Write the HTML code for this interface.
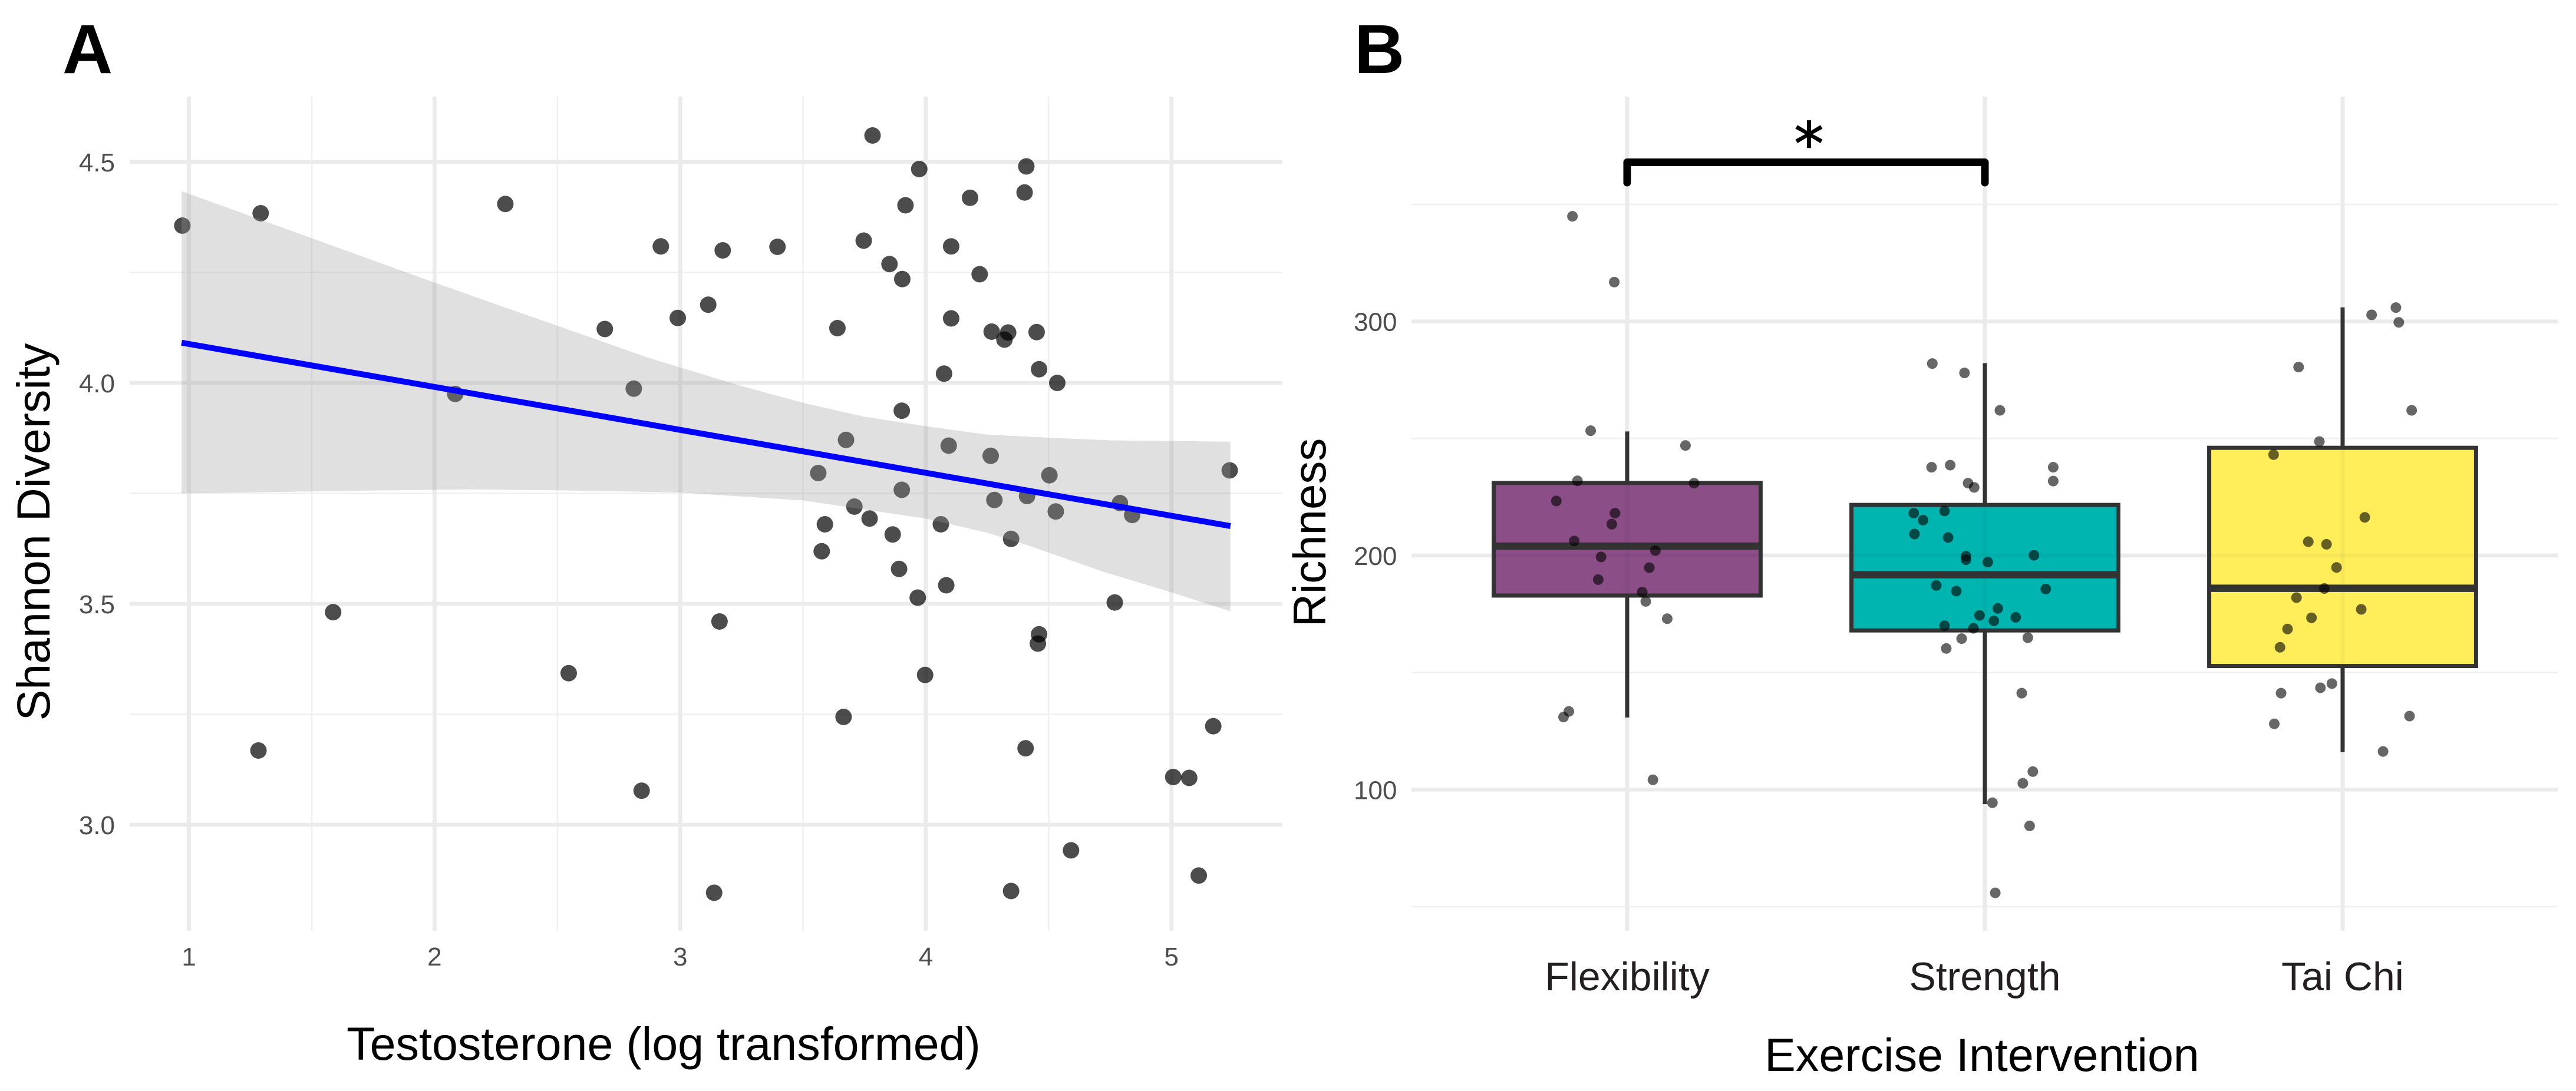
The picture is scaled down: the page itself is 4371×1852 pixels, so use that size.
<!DOCTYPE html>
<html lang="en">
<head>
<meta charset="utf-8">
<title>Testosterone and exercise intervention vs gut diversity</title>
<style>
html,body{margin:0;padding:0;background:#fff;}
svg{display:block;font-family:"Liberation Sans",Arial,sans-serif;}
</style>
</head>
<body>
<svg id="figure" xmlns="http://www.w3.org/2000/svg" width="4371" height="1852" viewBox="0 0 4371 1852">
  <rect x="0" y="0" width="4371" height="1852" fill="#ffffff"/>
  <g id="panelA"></g>
  <g id="panelB"></g>
  <text x="106" y="124" font-size="118" font-weight="700" fill="#000">A</text>
  <text x="2298" y="124" font-size="118" font-weight="700" fill="#000">B</text>
  <text x="1126" y="1799" font-size="79" text-anchor="middle" fill="#000">Testosterone (log transformed)</text>
  <text transform="translate(84,903) rotate(-90)" font-size="79" text-anchor="middle" fill="#000">Shannon Diversity</text>
  <text x="3363" y="1818" font-size="79" text-anchor="middle" fill="#000">Exercise Intervention</text>
  <text transform="translate(2249,904) rotate(-90)" font-size="78" text-anchor="middle" fill="#000">Richness</text>
</svg>
<script>
// ---------- Panel A data ----------
const xTicksA = [1, 2, 3, 4, 5];
const xMinorA = [1.5, 2.5, 3.5, 4.5];
const yTicksA = [3.0, 3.5, 4.0, 4.5];
const yMinorA = [3.25, 3.75, 4.25];
const testosterone = [0.973,1.292,2.288,2.693,2.811,2.084,3.783,3.973,4.409,4.402,4.180,3.917,2.921,3.173,3.396,3.747,4.103,3.852,3.904,4.219,2.990,3.114,3.640,4.103,4.268,4.335,4.320,4.451,4.461,4.535,4.074,3.902,3.675,4.093,4.264,3.562,4.503,5.237,3.902,4.279,4.412,4.529,4.790,4.840,3.709,3.771,3.589,4.061,3.865,4.347,3.576,3.891,4.083,3.967,4.769,3.160,4.461,4.456,3.997,3.665,4.406,5.007,5.072,5.170,4.591,5.111,3.138,4.347,2.843,1.587,2.546,1.283];
const shannon = [4.356,4.384,4.405,4.122,3.987,3.975,4.560,4.484,4.490,4.431,4.419,4.402,4.309,4.300,4.308,4.322,4.309,4.269,4.235,4.246,4.147,4.177,4.124,4.146,4.116,4.114,4.098,4.115,4.031,4.000,4.021,3.937,3.871,3.858,3.835,3.796,3.791,3.802,3.758,3.735,3.744,3.709,3.728,3.701,3.720,3.693,3.680,3.680,3.657,3.647,3.619,3.579,3.542,3.514,3.503,3.460,3.431,3.410,3.339,3.244,3.173,3.108,3.106,3.223,2.942,2.885,2.846,2.850,3.077,3.481,3.343,3.168];
const fitX = [0.97, 5.24];
const fitY = [4.091, 3.676];
const upperX = [0.97,2.0,2.87,3.0,3.23,3.5,3.744,4.0,4.249,4.498,4.754,5.24];
const upperY = [4.434,4.227,4.057,4.035,3.996,3.955,3.924,3.902,3.883,3.876,3.870,3.867];
const lowerX = [0.97,1.686,2.15,2.49,2.81,3.0,3.5,4.0,4.249,4.417,4.72,5.0,5.24];
const lowerY = [3.750,3.756,3.759,3.757,3.754,3.752,3.734,3.693,3.661,3.632,3.573,3.526,3.483];

// ---------- Panel B data ----------
const categories = ["Flexibility", "Strength", "Tai Chi"];
const yTicksB = [100, 200, 300];
const yMinorB = [50, 150, 250, 350];
const boxColors = ["#8b4e87", "#00b5b0", "#ffee5a"];
const q1 = [182.9, 168, 152.8];
const medians = [204, 191.8, 186];
const q3 = [231, 221.6, 246];
const whiskerLow = [130.8, 93.8, 116];
const whiskerHigh = [253, 282.2, 306];
const flexibilityJitter = [-.153,-.036,-.102,.163,-.139,.187,-.198,-.034,-.043,-.148,.079,-.073,.062,-.081,.042,.052,.112,-.163,-.178,.072];
const flexibilityRichness = [344.9,316.8,253.3,247,231.9,230.9,223.3,218.1,213.4,206.2,202.1,199.4,194.8,189.7,184.4,180.4,173,133.4,131,104.2];
const strengthJitter = [-.147,-.057,.042,-.149,-.097,-.047,-.03,.191,.191,-.113,-.103,-.199,-.173,-.197,-.053,-.053,.008,.137,-.136,-.08,.17,.036,-.015,.086,.025,-.113,-.032,-.065,-.108,.12,.103,.134,.106,.021,.125,.029];
const strengthRichness = [282,278,262,237.7,238.6,230.9,229.1,237.7,231.8,219,207.7,218.1,215.1,209.2,199.7,198.2,197.2,200.1,187.2,184.8,185.7,177.4,174.4,173.6,172.1,170,168.9,164.5,160.3,164.9,141.2,107.7,102.7,94.4,84.5,55.9];
const taiChiJitter = [.149,.081,.157,-.123,.193,-.065,-.193,.062,-.096,-.045,-.017,-.051,-.129,.052,-.087,-.154,-.175,-.03,-.062,-.172,-.191,.187,.113];
const taiChiRichness = [305.9,302.8,299.6,280.5,262,248.7,243.1,216.3,205.9,204.8,194.9,185.9,182,177,173.4,168.6,160.8,145.3,143.5,141.2,128.1,131.4,116.3];
const significanceLabel = "*";

// ---------- Axis functions ----------
const panelA = {left: 220, right: 2176, top: 164, bottom: 1580};
const panelB = {left: 2395, right: 4340, top: 164, bottom: 1580};
const xA = v => 320.6 + 416.8 * (v - 1);
const yA = v => 650 - 750 * (v - 4);
const xB = c => 2761 + 607 * c;
const yB = v => 943 - 3.974 * (v - 200);
const SVGNS = "http://www.w3.org/2000/svg";
const gA = document.getElementById("panelA");
const gB = document.getElementById("panelB");

function make(parent, tag, attrs, text) {
  const el = document.createElementNS(SVGNS, tag);
  for (const k in attrs) el.setAttribute(k, attrs[k]);
  if (text !== undefined) el.textContent = text;
  parent.appendChild(el);
  return el;
}
const lineAttrs = (x1, y1, x2, y2, stroke, w) => ({x1, y1, x2, y2, stroke, "stroke-width": w});

// ---------- Panel A drawing ----------
yMinorA.forEach(v => {
  const el = make(gA, "line", lineAttrs(panelA.left, yA(v), panelA.right, yA(v), "#f0f0f0", 2.6));
  
  
});
xMinorA.forEach(v => {
  const el = make(gA, "line", lineAttrs(xA(v), panelA.top, xA(v), panelA.bottom, "#f0f0f0", 2.6));
  
  
});
yTicksA.forEach(v => {
  const el = make(gA, "line", lineAttrs(panelA.left, yA(v), panelA.right, yA(v), "#ebebeb", 6.5));
  
  
  const t = make(gA, "text", {x: 195, y: yA(v) + 16, "font-size": 44, "text-anchor": "end", fill: "#4d4d4d"}, v.toFixed(1));
  
  
});
xTicksA.forEach(v => {
  const el = make(gA, "line", lineAttrs(xA(v), panelA.top, xA(v), panelA.bottom, "#ebebeb", 7));
  
  
  const t = make(gA, "text", {x: xA(v), y: 1639, "font-size": 44, "text-anchor": "middle", fill: "#4d4d4d"}, String(v));
  
  
});
testosterone.forEach((v, i) => {
  const el = make(gA, "circle", {cx: xA(v), cy: yA(shannon[i]), r: 14, fill: "#000", "fill-opacity": 0.7});
  
  
});
let ribbonPts = upperX.map((v, i) => xA(v) + "," + yA(upperY[i]));
for (let i = lowerX.length - 1; i >= 0; i--) ribbonPts.push(xA(lowerX[i]) + "," + yA(lowerY[i]));
const ribbon = make(gA, "polygon", {points: ribbonPts.join(" "), fill: "#999999", "fill-opacity": 0.3});


const fit = make(gA, "line", lineAttrs(xA(fitX[0]), yA(fitY[0]), xA(fitX[1]), yA(fitY[1]), "#0000ff", 10));



// ---------- Panel B drawing ----------
yMinorB.forEach(v => {
  const el = make(gB, "line", lineAttrs(panelB.left, yB(v), panelB.right, yB(v), "#f0f0f0", 2.6));
  
  
});
yTicksB.forEach(v => {
  const el = make(gB, "line", lineAttrs(panelB.left, yB(v), panelB.right, yB(v), "#ebebeb", 6.5));
  
  
  const t = make(gB, "text", {x: 2370.5, y: yB(v) + 16, "font-size": 44, "text-anchor": "end", fill: "#4d4d4d"}, String(v));
  
  
});
categories.forEach((name, c) => {
  const el = make(gB, "line", lineAttrs(xB(c), panelB.top, xB(c), panelB.bottom, "#ebebeb", 7));
  
  
  const t = make(gB, "text", {x: xB(c), y: 1681, "font-size": 68, "text-anchor": "middle", fill: "#231f20"}, name);
  
  
});
const boxHalf = 0.373 * 607;
categories.forEach((name, c) => {
  const cx = xB(c);
  const w = make(gB, "line", lineAttrs(cx, yB(whiskerLow[c]), cx, yB(whiskerHigh[c]), "#333333", 7));
  
  
  const b = make(gB, "rect", {x: cx - boxHalf, y: yB(q3[c]), width: boxHalf * 2, height: yB(q1[c]) - yB(q3[c]), fill: boxColors[c]});
  
  
  const vg = make(gB, "line", lineAttrs(cx, yB(q3[c]) + 3.5, cx, yB(q1[c]) - 3.5, "#000", 7));
  vg.setAttribute('stroke-opacity', '0.03');
  
  
  [...yTicksB, ...yMinorB].forEach(v => {
    if (v > q1[c] && v < q3[c]) {
      const hg = make(gB, "line", lineAttrs(cx - boxHalf + 3.5, yB(v), cx + boxHalf - 3.5, yB(v), "#000", yTicksB.includes(v) ? 6.5 : 3));
      hg.setAttribute('stroke-opacity', '0.03');
      
      
    }
  });
  const o = make(gB, "rect", {x: cx - boxHalf, y: yB(q3[c]), width: boxHalf * 2, height: yB(q1[c]) - yB(q3[c]), fill: "none", stroke: "#333333", "stroke-width": 7});
  
  
  const m = make(gB, "line", lineAttrs(cx - boxHalf, yB(medians[c]), cx + boxHalf, yB(medians[c]), "#333333", 12.5));
  
  
});
[[flexibilityJitter, flexibilityRichness], [strengthJitter, strengthRichness], [taiChiJitter, taiChiRichness]].forEach((pair, c) => {
  pair[0].forEach((j, i) => {
    const el = make(gB, "circle", {cx: xB(c + j), cy: yB(pair[1][i]), r: 9, fill: "#000", "fill-opacity": 0.6});
    
    
  });
});
const bracket = make(gB, "polyline", {points: [xB(0), 310, xB(0), 275.5, xB(1), 275.5, xB(1), 310].join(" "), fill: "none", stroke: "#000", "stroke-width": 13, "stroke-linecap": "round", "stroke-linejoin": "round"});


const star = make(gB, "text", {x: (xB(0) + xB(1)) / 2 + 5, y: 279, "font-size": 100, "text-anchor": "middle", fill: "#000", stroke: "#000", "stroke-width": 1.5, "font-family": '"DejaVu Sans",sans-serif'}, significanceLabel);


</script>
</body>
</html>
